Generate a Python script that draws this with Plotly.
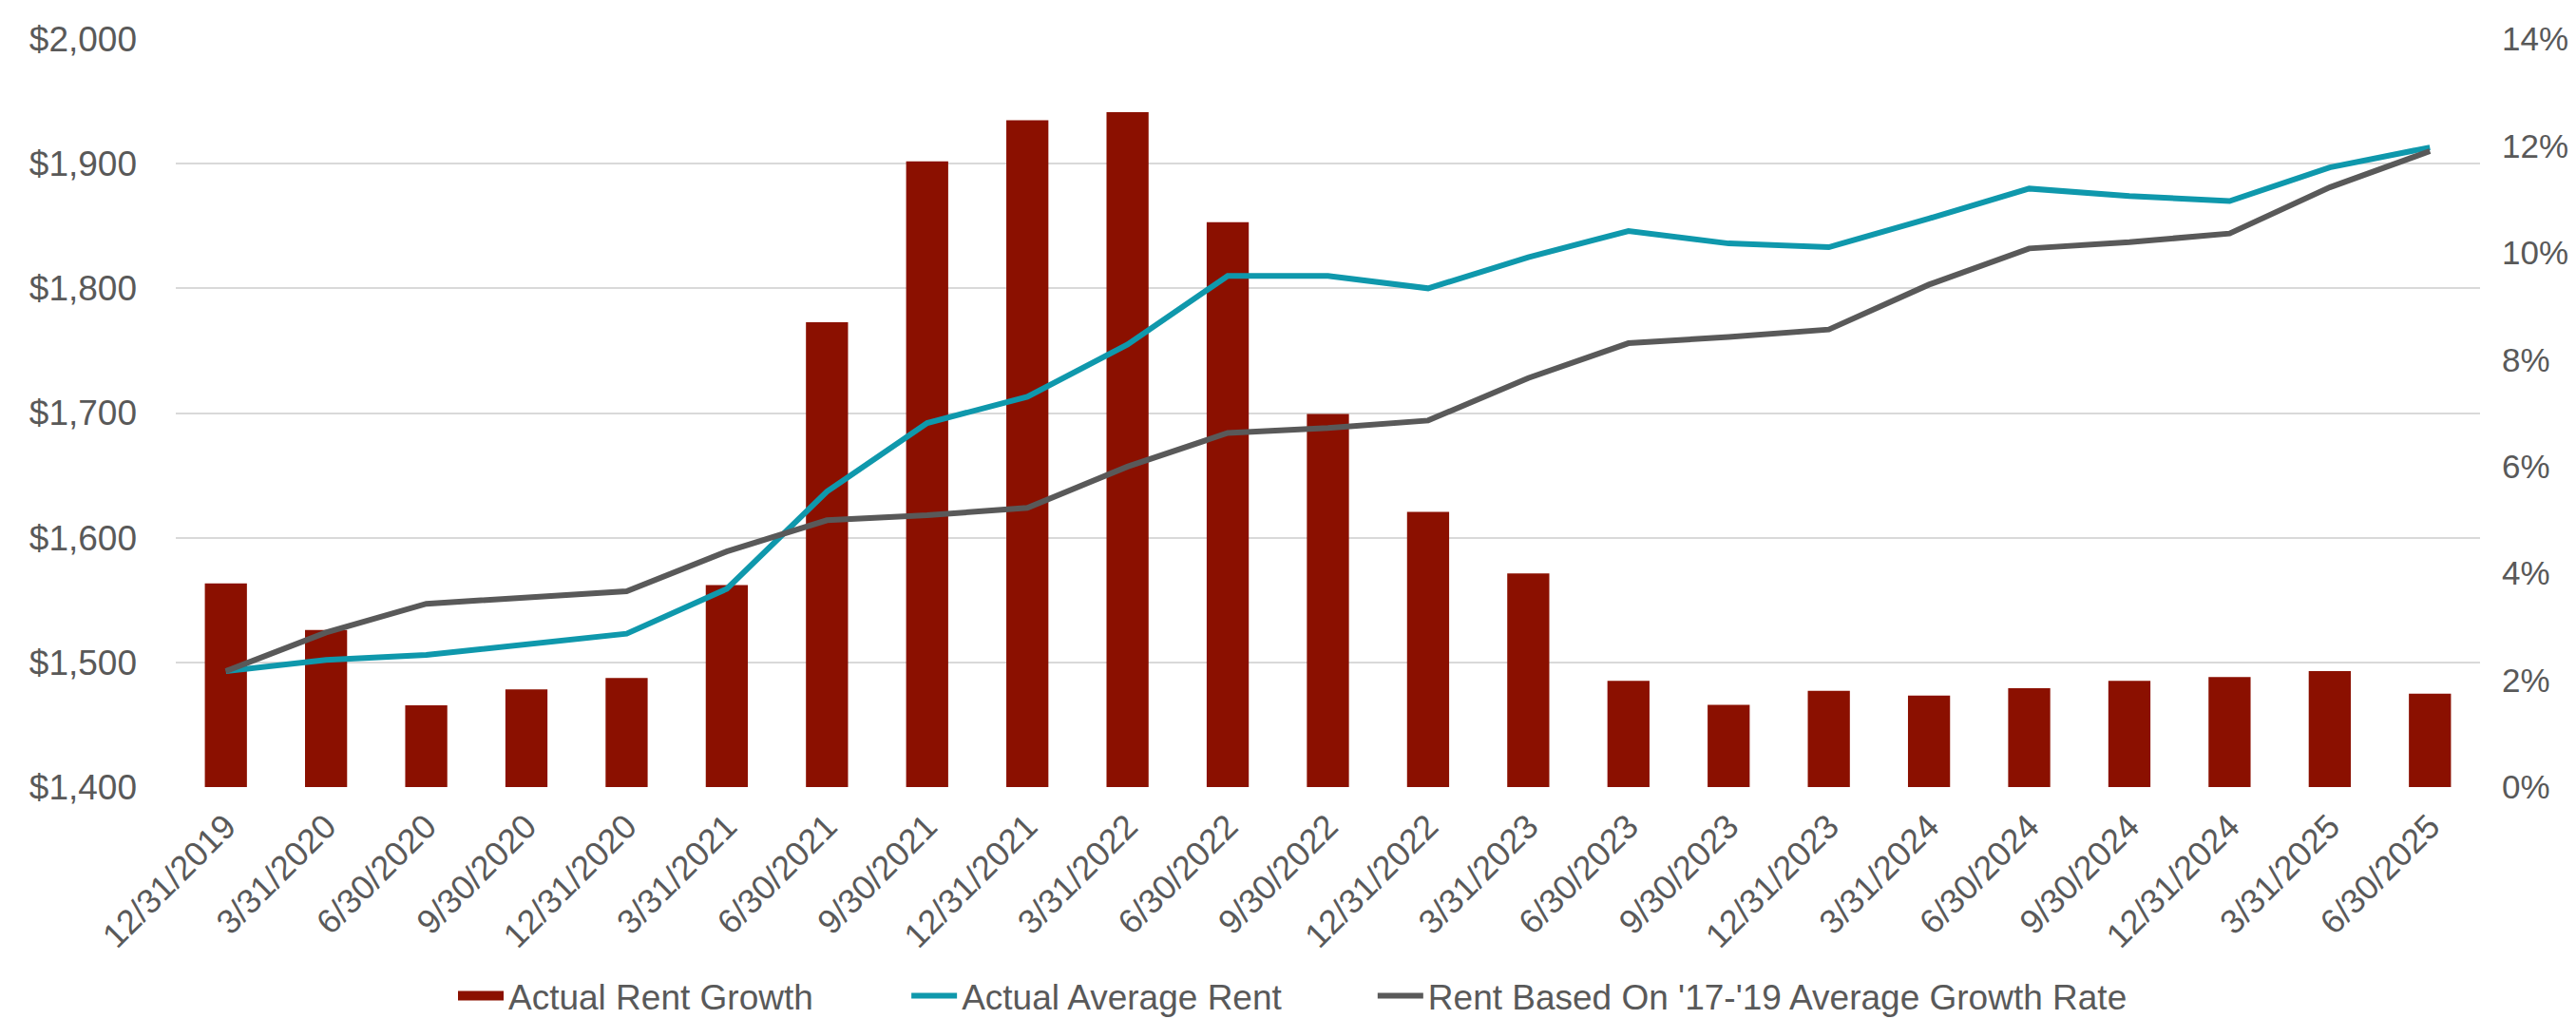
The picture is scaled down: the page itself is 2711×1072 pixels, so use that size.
import plotly.graph_objects as go

# quarter-end dates
quarters = ['12/31/2019', '3/31/2020', '6/30/2020', '9/30/2020', '12/31/2020',
            '3/31/2021', '6/30/2021', '9/30/2021', '12/31/2021', '3/31/2022',
            '6/30/2022', '9/30/2022', '12/31/2022', '3/31/2023', '6/30/2023',
            '9/30/2023', '12/31/2023', '3/31/2024', '6/30/2024', '9/30/2024',
            '12/31/2024', '3/31/2025', '6/30/2025']

# year-over-year rent growth (right axis)
rent_growth = [0.0381, 0.0294, 0.0153, 0.0183, 0.0204, 0.0378, 0.0870, 0.1171,
               0.1248, 0.1263, 0.1057, 0.0698, 0.0515, 0.0400, 0.0199, 0.0154,
               0.0180, 0.0171, 0.0185, 0.0199, 0.0206, 0.0217, 0.0175]

# average rent, $ (left axis)
actual_rent = [1493, 1502, 1506, 1514, 1523, 1559, 1637, 1692, 1713, 1755, 1810,
               1810, 1800, 1825, 1846, 1836, 1833, 1856, 1880, 1874, 1870, 1897, 1913]

trend_rent = [1493, 1524, 1547, 1552, 1557, 1589, 1614, 1618, 1624, 1657, 1684,
              1688, 1694, 1728, 1756, 1761, 1767, 1803, 1832, 1837, 1844, 1881, 1910]

FONT = 'Liberation Sans, Arial, sans-serif'
TXT = '#595959'
BAR_RED = '#8B1000'

fig = go.Figure()

# bars on the primary axis so the lines (overlay axis) draw on top of them
fig.add_trace(go.Bar(
    x=quarters, y=rent_growth,
    name='Actual Rent Growth',
    marker=dict(color=BAR_RED, line=dict(width=0)),
    yaxis='y',
    showlegend=False,
))

# legend-only entry so the swatch is a wide block like the original
fig.add_trace(go.Scatter(
    x=[None], y=[None],
    mode='lines', name='Actual Rent Growth',
    line=dict(color=BAR_RED, width=22),
    yaxis='y', legend='legend',
))

fig.add_trace(go.Scatter(
    x=quarters, y=actual_rent,
    mode='lines', name='Actual Average Rent',
    line=dict(color='#0F98AC', width=6),
    yaxis='y2', legend='legend2',
))

fig.add_trace(go.Scatter(
    x=quarters, y=trend_rent,
    mode='lines', name="Rent Based On '17-'19 Average Growth Rate",
    line=dict(color='#595959', width=6),
    yaxis='y2', legend='legend3',
))

# one legend per entry, placed where the original has them
leg = dict(
    orientation='h',
    xref='container', yref='container',
    xanchor='left', y=0.03, yanchor='middle',
    font=dict(size=37, color=TXT),
    itemwidth=48,
    bgcolor='rgba(0,0,0,0)',
)

fig.update_layout(
    width=2711, height=1072,
    paper_bgcolor='white', plot_bgcolor='white',
    font=dict(family=FONT, size=36, color=TXT),
    margin=dict(l=177, r=109, t=33, b=252),
    bargap=0.58,
    xaxis=dict(
        type='category',
        tickangle=-45,
        tickfont=dict(size=36, color=TXT),
        showgrid=False,
        showline=False,
        ticks='',
        ticklabelstandoff=12,
    ),
    yaxis=dict(
        side='right',
        range=[0, 0.14],
        dtick=0.02,
        tickformat='.0%',
        showgrid=False,
        zeroline=False,
        tickfont=dict(size=35, color=TXT),
        ticklabelstandoff=22,
    ),
    yaxis2=dict(
        overlaying='y',
        side='left',
        range=[1400, 2000],
        dtick=100,
        tickprefix='$',
        tickformat=',.0f',
        showgrid=True,
        gridcolor='#D9D9D9',
        gridwidth=2,
        zeroline=False,
        tickfont=dict(size=37, color=TXT),
        ticklabelstandoff=40,
    ),
    legend=dict(leg, x=0.173),
    legend2=dict(leg, x=0.349),
    legend3=dict(leg, x=0.530),
    showlegend=True,
)

fig.write_html("out.html")
